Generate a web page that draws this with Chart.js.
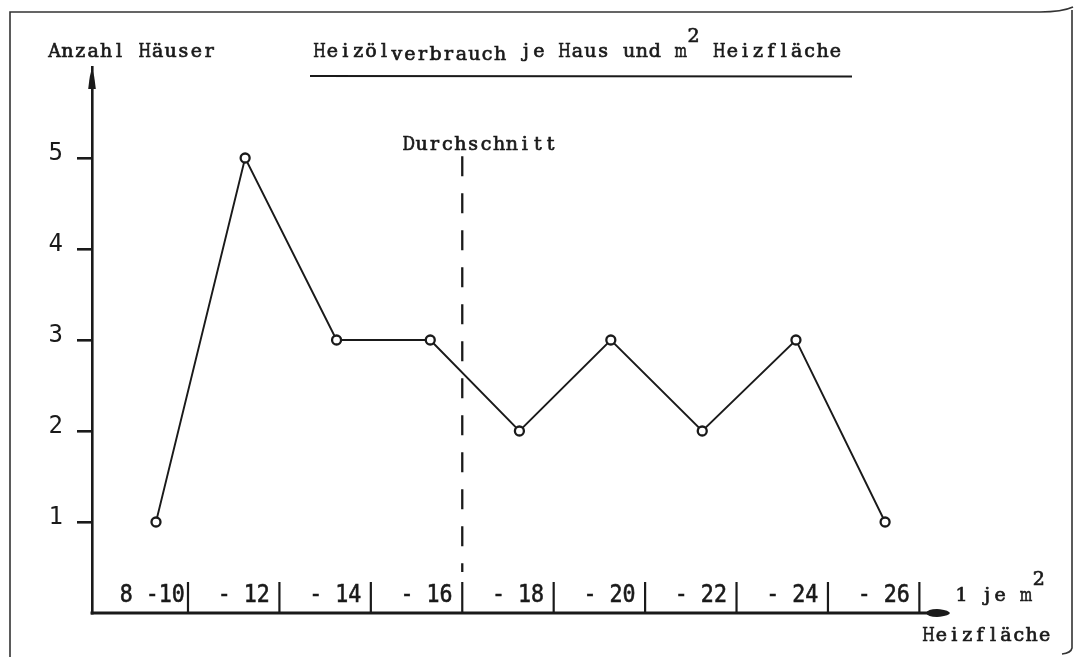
<!DOCTYPE html>
<html><head><meta charset="utf-8">
<script src="https://cdn.jsdelivr.net/npm/chart.js@4.4.1/dist/chart.umd.min.js"></script>
<style>html,body{margin:0;padding:0;background:#fff;}canvas{display:block;}</style>
</head><body>
<canvas id="c" width="1080" height="657"></canvas>
<script>
// ---- data ----
const binLabels = ['8 -10', '- 12', '- 14', '- 16', '- 18', '- 20', '- 22', '- 24', '- 26'];
const binEdges  = [10, 12, 14, 16, 18, 20, 22, 24, 26];          // l je m² (upper bin bounds)
const pointX    = [9.3, 11.25, 13.25, 15.3, 17.25, 19.25, 21.25, 23.3, 25.25];
const houses    = [1, 5, 3, 3, 2, 3, 2, 3, 1];                   // Anzahl Häuser
const yTicks    = [1, 2, 3, 4, 5];
const average   = 16;                                            // Durchschnitt
const titleText = 'Heizölverbrauch je Haus und m² Heizfläche';
const yTitle    = 'Anzahl Häuser';
const avgLabel  = 'Durchschnitt';
const unitText  = '1 je m²';
const xTitle    = 'Heizfläche';

const INK = '#1a1a1a';
const CELL = 12.9;                                  // typewriter character pitch
const SERIF = '19px "DejaVu Serif", "Liberation Serif", serif';
const NUMF  = '24px "DejaVu Sans Mono", monospace';

// typewriter-style text: every glyph centred in a fixed-width cell
function typeText(ctx, str, x, y) {
  ctx.save();
  ctx.font = SERIF;
  ctx.textAlign = 'left';
  ctx.textBaseline = 'alphabetic';
  ctx.lineWidth = 0.7;
  [...str].forEach((ch, i) => {
    if (ch === ' ') return;
    const w = ctx.measureText(ch).width;
    const s = Math.min(1, (CELL - 0.4) / w);
    const cx = x + i * CELL + CELL / 2;
    ctx.save();
    ctx.translate(cx, y);
    ctx.scale(s, 1);
    ctx.fillText(ch, -w / 2, 0);
    ctx.strokeText(ch, -w / 2, 0);
    ctx.restore();
  });
  ctx.restore();
}
function numText(ctx, str, x, y) {
  ctx.save();
  ctx.font = NUMF;
  ctx.textAlign = 'center';
  ctx.translate(x, y);
  ctx.scale(0.9, 1);
  ctx.fillText(str, 0, 0);
  ctx.lineWidth = 0.6;
  ctx.strokeText(str, 0, 0);
  ctx.restore();
}

const decor = {
  id: 'decor',
  beforeDraw(chart) {
    const ctx = chart.ctx;
    ctx.save();
    ctx.fillStyle = '#fff';
    ctx.fillRect(0, 0, chart.width, chart.height);
    ctx.strokeStyle = '#333';
    ctx.lineWidth = 1.6;
    ctx.beginPath();
    ctx.moveTo(10, 657);
    ctx.lineTo(10, 12);
    ctx.lineTo(1040, 12);
    ctx.quadraticCurveTo(1062, 12, 1073, 7);
    ctx.moveTo(1072, 10);
    ctx.lineTo(1072, 648);
    ctx.quadraticCurveTo(1071, 653, 1062, 654);
    ctx.stroke();
    ctx.restore();
  },
  beforeDatasetsDraw(chart) {
    const ctx = chart.ctx, xs = chart.scales.x, ys = chart.scales.y;
    ctx.save();
    ctx.strokeStyle = INK;
    ctx.lineWidth = 2.3;
    ctx.setLineDash([20, 17]);
    const ax = xs.getPixelForValue(average);
    ctx.beginPath();
    ctx.moveTo(ax, ys.getPixelForValue(5.02));
    ctx.lineTo(ax, ys.getPixelForValue(0.45));
    ctx.stroke();
    ctx.restore();
  },
  afterDraw(chart) {
    const ctx = chart.ctx, xs = chart.scales.x, ys = chart.scales.y;
    const y0 = ys.getPixelForValue(0);
    const xl = xs.getPixelForValue(xs.min);
    const xr = xs.getPixelForValue(xs.max);
    const yt = ys.getPixelForValue(ys.max);
    ctx.save();
    ctx.strokeStyle = INK; ctx.fillStyle = INK;
    // x axis line
    ctx.lineWidth = 3;
    ctx.beginPath();
    ctx.moveTo(xl - 1.5, y0);
    ctx.lineTo(xr - 15, y0);
    ctx.stroke();
    // x arrow head
    ctx.beginPath();
    ctx.moveTo(xr - 24, y0);
    ctx.quadraticCurveTo(xr - 22, y0 - 4.5, xr - 10, y0 - 3.8);
    ctx.quadraticCurveTo(xr - 1, y0 - 2.5, xr, y0);
    ctx.quadraticCurveTo(xr - 1, y0 + 2.5, xr - 10, y0 + 3.8);
    ctx.quadraticCurveTo(xr - 22, y0 + 4.5, xr - 24, y0);
    ctx.fill();
    // y arrow head
    const ya = xs.left;
    ctx.beginPath();
    ctx.moveTo(ya, yt + 2);
    ctx.quadraticCurveTo(ya + 2, yt + 5, ya + 3.8, yt + 22);
    ctx.lineTo(ya - 3.8, yt + 22);
    ctx.quadraticCurveTo(ya - 2, yt + 5, ya, yt + 2);
    ctx.fill();
    // bin separators
    ctx.lineWidth = 2.2;
    binEdges.forEach(v => {
      const px = xs.getPixelForValue(v);
      ctx.beginPath();
      ctx.moveTo(px, y0 - 31);
      ctx.lineTo(px, y0);
      ctx.stroke();
    });
    // bin labels
    binLabels.forEach((t, i) => {
      const mid = binEdges[i] - 1 + 0.22;
      numText(ctx, t, xs.getPixelForValue(mid), y0 - 11);
    });
    // axis titles / labels
    typeText(ctx, yTitle, 48, 57);
    // title, typewriter style with a slightly dropped "verbrauch" and raised ²
    const tx = 313, tb = 57;
    const parts = titleText.split('²');
    const p1 = parts[0], p2 = parts[1];
    typeText(ctx, p1.slice(0, 6), tx, tb);
    typeText(ctx, p1.slice(6, 15), tx + 6 * CELL, tb + 3);
    typeText(ctx, p1.slice(15), tx + 15 * CELL, tb);
    typeText(ctx, '2', tx + p1.length * CELL, tb - 15);
    typeText(ctx, p2, tx + (p1.length + 1) * CELL, tb);
    ctx.lineWidth = 2.2;
    ctx.beginPath();
    ctx.moveTo(310, 76);
    ctx.lineTo(852, 76.5);
    ctx.stroke();
    typeText(ctx, avgLabel, xs.getPixelForValue(average) - 60, 150);
    const u = unitText.split('²');
    typeText(ctx, u[0], 955, y0 - 12);
    typeText(ctx, '2', 955 + u[0].length * CELL, y0 - 28);
    typeText(ctx, xTitle, 922, 641);
    ctx.restore();
  }
};

new Chart(document.getElementById('c'), {
  type: 'line',
  data: {
    datasets: [{
      data: pointX.map((x, i) => ({ x: x, y: houses[i] })),
      borderColor: INK,
      borderWidth: 1.9,
      tension: 0,
      pointRadius: 4.5,
      pointBorderWidth: 2.3,
      pointBorderColor: INK,
      pointBackgroundColor: '#fff',
      fill: false
    }]
  },
  options: {
    responsive: false,
    animation: false,
    layout: { padding: { left: 0, right: 130, top: 67, bottom: 44 } },
    plugins: { legend: { display: false }, tooltip: { enabled: false }, title: { display: false } },
    scales: {
      x: { type: 'linear', min: 7.9, max: 26.67, display: false },
      y: {
        type: 'linear', min: 0, max: 6,
        afterBuildTicks: s => { s.ticks = yTicks.map(v => ({ value: v })); },
        afterFit: s => { s.width = 92; },
        ticks: {
          color: INK, padding: 14, labelOffset: -4,
          font: { family: '"DejaVu Sans Mono", monospace', size: 24 },
          callback: v => String(v)
        },
        grid: { drawOnChartArea: false, drawTicks: true, tickLength: 15, lineWidth: 2.6, color: INK },
        border: { display: true, width: 2.6, color: INK }
      }
    }
  },
  plugins: [decor]
});
</script>
</body></html>
